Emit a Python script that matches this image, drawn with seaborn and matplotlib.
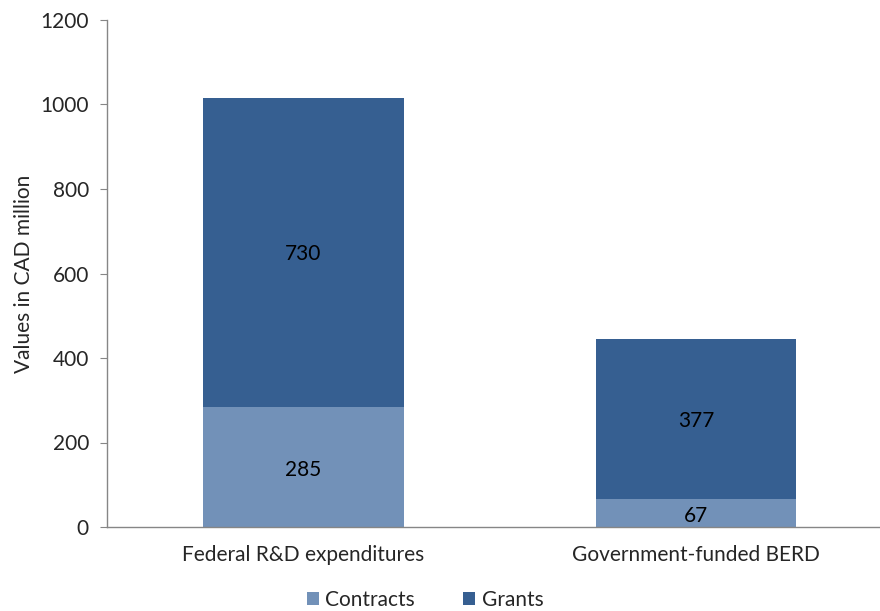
import pandas as pd
import matplotlib.pyplot as plt
import seaborn as sns

# Chart data
categories = ["Federal R&D expenditures", "Government-funded BERD"]
contracts = [285, 67]
grants = [730, 377]

sns.set_style("white")
plt.rcParams['font.family'] = ['Lato', 'DejaVu Sans']

df = pd.DataFrame({"category": categories, "Contracts": contracts, "Grants": grants})
df["total"] = df["Contracts"] + df["Grants"]

contract_color = "#7291B8"
grant_color = "#365F91"
fs = 15

fig = plt.figure(figsize=(8.8, 6.11), dpi=100)
ax = fig.add_axes([107 / 880, 84 / 611, 773 / 880, 507 / 611])

# Grants stacked on top of contracts: draw totals first, then contracts over them
sns.barplot(data=df, x="category", y="total", color=grant_color, width=0.51,
            saturation=1, linewidth=0, ax=ax, label="Grants")
sns.barplot(data=df, x="category", y="Contracts", color=contract_color, width=0.51,
            saturation=1, linewidth=0, ax=ax, label="Contracts")

# Value labels in the middle of each segment
for i, row in df.iterrows():
    ax.text(i, row["Contracts"] / 2 - 8, str(row["Contracts"]), ha="center", va="center",
            fontsize=fs, color="black")
    ax.text(i, row["Contracts"] + row["Grants"] / 2 - 4, str(row["Grants"]), ha="center",
            va="center", fontsize=fs, color="black")

ax.set_xlim(-0.5, (880 - 303) / 393)
ax.set_ylim(0, 1200)
ax.set_yticks(range(0, 1201, 200))
ax.set_xlabel("")
ax.set_ylabel("Values in CAD million", fontsize=fs, labelpad=5)
ax.tick_params(axis="y", labelsize=fs, length=5, color="#868686", direction="out",
               left=True, pad=8)
ax.tick_params(axis="x", labelsize=fs, length=0, pad=13)

for side in ["top", "right"]:
    ax.spines[side].set_visible(False)
for side in ["left", "bottom"]:
    ax.spines[side].set_color("#868686")
    ax.spines[side].set_linewidth(1)

# Legend at the bottom, Contracts first
handles, labels = ax.get_legend_handles_labels()
order = [labels.index("Contracts"), labels.index("Grants")]
ax.legend([handles[i] for i in order], [labels[i] for i in order],
          loc="center", bbox_to_anchor=(425 / 880, 11 / 611), bbox_transform=fig.transFigure,
          ncol=2, frameon=False, fontsize=fs, handlelength=0.6, handleheight=0.6,
          columnspacing=2.3, handletextpad=0.3)

fig.savefig("out.png", dpi=100)
